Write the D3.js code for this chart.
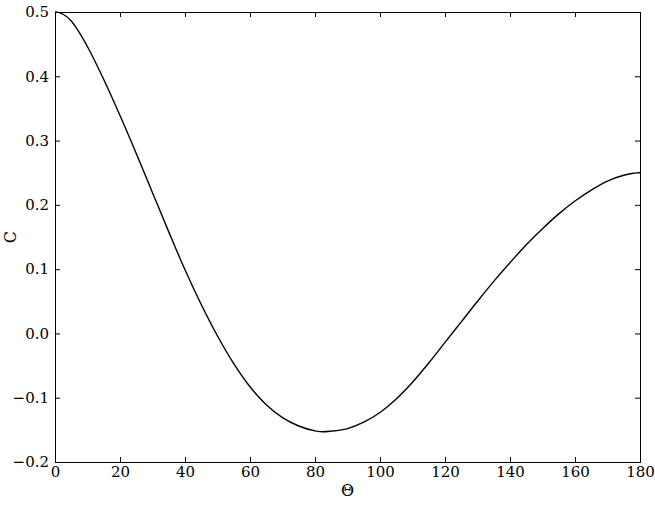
<!DOCTYPE html>
<html><head><meta charset="utf-8">
<script src="https://cdn.jsdelivr.net/npm/d3@7"></script>
<style>body{margin:0;background:#fff}svg{display:block}text{font-family:"DejaVu Serif",serif;fill:#000}</style>
</head><body>
<script>
const theta = [0,1,2.5,5,7.5,10,15,20,25,30,35,40,45,50,55,60,65,70,75,80,82.5,85,90,95,100,105,110,115,120,125,130,135,140,145,150,155,160,165,170,175,177.5,179,180];
const cVals = [0.500,0.4995,0.4965,0.486,0.468,0.446,0.395,0.339,0.280,0.219,0.158,0.099,0.045,-0.004,-0.047,-0.083,-0.111,-0.131,-0.144,-0.1515,-0.153,-0.152,-0.148,-0.138,-0.123,-0.102,-0.076,-0.046,-0.014,0.018,0.050,0.081,0.110,0.138,0.163,0.186,0.206,0.223,0.237,0.246,0.2488,0.2498,0.250];
const xTicks = [0,20,40,60,80,100,120,140,160,180];
const yTicks = [-0.2,-0.1,0.0,0.1,0.2,0.3,0.4,0.5];

const W=655,H=505, m={l:55,r:15,t:12,b:43};
const svg=d3.select("body").append("svg").attr("width",W).attr("height",H);
const x=d3.scaleLinear().domain([0,180]).range([m.l,W-m.r]);
const y=d3.scaleLinear().domain([-0.2,0.5]).range([H-m.b,m.t]);
const fmtY=d=>d3.format(".1f")(d).replace("-","\u2212");
const tl=5;
svg.append("g").attr("transform",`translate(0,${y(-0.2)})`).call(d3.axisBottom(x).tickValues(xTicks).tickSize(-tl).tickPadding(4).tickFormat(d3.format("d")));
svg.append("g").attr("transform",`translate(0,${y(0.5)})`).call(d3.axisTop(x).tickValues(xTicks).tickSize(-tl).tickFormat(""));
svg.append("g").attr("transform",`translate(${x(0)},0)`).call(d3.axisLeft(y).tickValues(yTicks).tickSize(-tl).tickPadding(6).tickFormat(fmtY));
svg.append("g").attr("transform",`translate(${x(180)},0)`).call(d3.axisRight(y).tickValues(yTicks).tickSize(-tl).tickFormat(""));
svg.selectAll(".domain").attr("stroke","#000").attr("stroke-width",1);
svg.selectAll(".tick line").attr("stroke","#000").attr("stroke-width",1);
svg.selectAll(".tick text").attr("font-size",15).attr("font-family","DejaVu Serif, serif");
const data=theta.map((t,i)=>[t,cVals[i]]);
svg.append("path").datum(data).attr("fill","none").attr("stroke","#000").attr("stroke-width",1.4)
 .attr("d",d3.line().x(d=>x(d[0])).y(d=>y(d[1])).curve(d3.curveMonotoneX));
svg.append("text").attr("x",(x(0)+x(180))/2).attr("y",H-9).attr("text-anchor","middle").attr("font-size",16).text("Θ");
svg.append("text").attr("transform",`translate(16,${(y(-0.2)+y(0.5))/2}) rotate(-90)`).attr("text-anchor","middle").attr("font-size",16).text("C");
</script>
</body></html>
